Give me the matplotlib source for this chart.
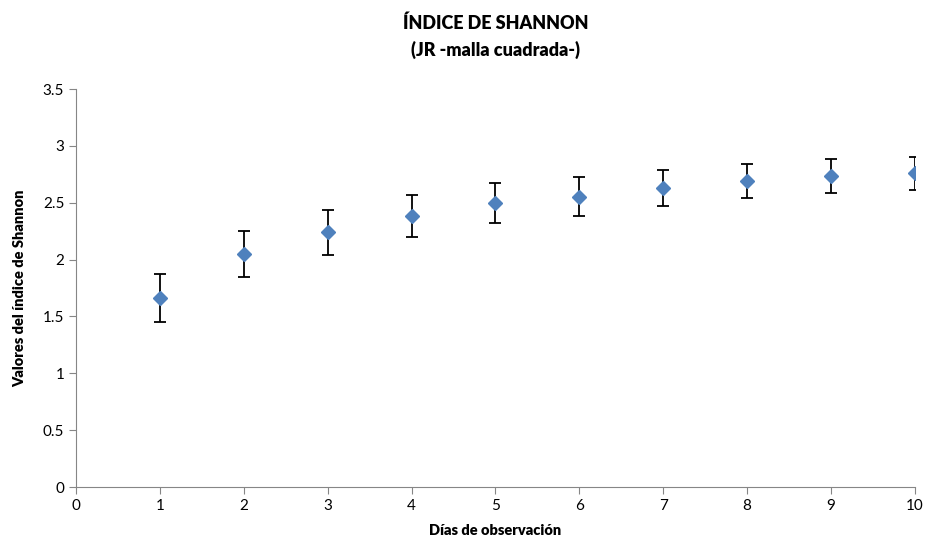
import matplotlib.pyplot as plt

plt.rcParams['font.family'] = ['Lato', 'DejaVu Sans']

dias = [1, 2, 3, 4, 5, 6, 7, 8, 9, 10]
shannon = [1.66, 2.05, 2.24, 2.38, 2.50, 2.555, 2.63, 2.69, 2.735, 2.76]
error = [0.21, 0.205, 0.195, 0.185, 0.175, 0.175, 0.16, 0.15, 0.148, 0.145]

fig = plt.figure(figsize=(9.27, 5.5), dpi=100)
ax = fig.add_axes([0.082, 0.1145, 0.905, 0.7235])

ax.errorbar(dias, shannon, yerr=error, fmt='D', color='#4F81BD', markersize=7.5,
            ecolor='black', elinewidth=1.3, capsize=4, capthick=1.3, zorder=3)

ax.set_xlim(0, 10)
ax.set_ylim(0, 3.5)
ax.set_xticks(range(0, 11))
ax.set_yticks([0, 0.5, 1, 1.5, 2, 2.5, 3, 3.5])
ax.set_yticklabels(['0', '0.5', '1', '1.5', '2', '2.5', '3', '3.5'])

for s in ['top', 'right']:
    ax.spines[s].set_visible(False)
for s in ['left', 'bottom']:
    ax.spines[s].set_color('#868686')
ax.tick_params(colors='#868686', labelcolor='black', labelsize=11, length=5, direction='out')

ax.set_xlabel('Días de observación', fontsize=10.5, fontweight='heavy', labelpad=8)
ax.set_ylabel('Valores del índice de Shannon', fontsize=10.5, fontweight='heavy', labelpad=12)
ax.set_title('ÍNDICE DE SHANNON\n(JR -malla cuadrada-)', fontsize=13, fontweight='heavy',
             pad=24, linespacing=1.55)

fig.savefig('out.png', dpi=100)
